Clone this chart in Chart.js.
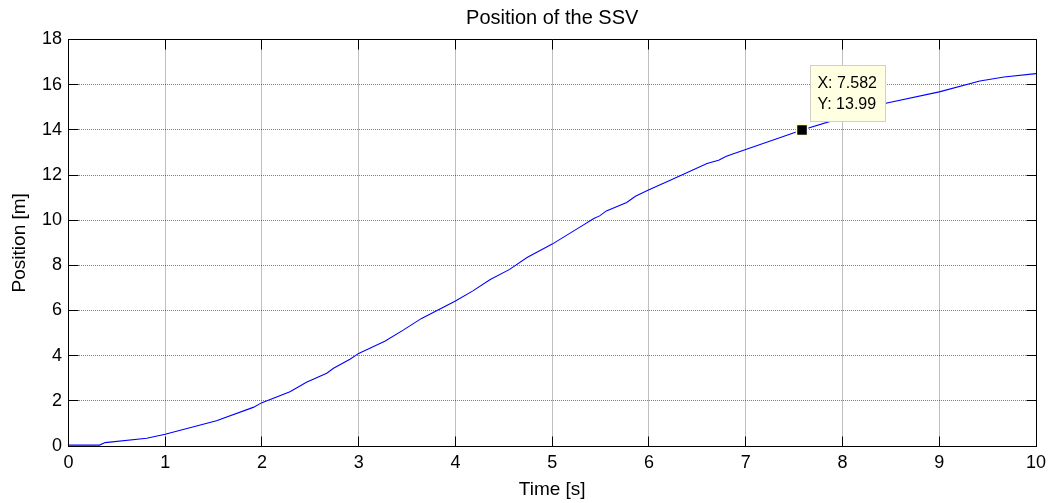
<!DOCTYPE html>
<html>
<head>
<meta charset="utf-8">
<script src="https://cdn.jsdelivr.net/npm/chart.js@4"></script>
<style>
html,body{margin:0;padding:0;background:#fff;}
canvas{display:block;}
</style>
</head>
<body>
<canvas id="c" width="1053" height="503"></canvas>
<script>
// ---- data ----
const timeS = [0, 0.32, 0.38, 0.81, 1.0, 1.53, 1.91, 2.0, 2.29, 2.46, 2.67, 2.74, 2.91, 3.0, 3.22, 3.27, 3.46, 3.65, 4.0, 4.18, 4.36, 4.56, 4.74, 5.0, 5.32, 5.43, 5.49, 5.56, 5.77, 5.86, 6.0, 6.22, 6.60, 6.72, 6.80, 7.0, 7.582, 8.0, 8.46, 9.0, 9.42, 9.67, 10.0];
const positionM = [0.04, 0.04, 0.15, 0.34, 0.52, 1.12, 1.71, 1.92, 2.40, 2.82, 3.22, 3.44, 3.84, 4.10, 4.54, 4.64, 5.13, 5.65, 6.42, 6.87, 7.37, 7.82, 8.35, 8.94, 9.78, 10.07, 10.19, 10.41, 10.78, 11.06, 11.35, 11.77, 12.51, 12.65, 12.83, 13.13, 13.99, 14.54, 15.19, 15.68, 16.16, 16.34, 16.49];
const xTicks = [0, 1, 2, 3, 4, 5, 6, 7, 8, 9, 10];
const yTicks = [0, 2, 4, 6, 8, 10, 12, 14, 16, 18];
const tipX = 7.582;
const tipY = 13.99;
const titleText = 'Position of the SSV';
const xLabel = 'Time [s]';
const yLabel = 'Position [m]';

const FONT = "'Liberation Sans', Arial, Helvetica, sans-serif";
const al = p => Math.round(p - 0.5) + 0.5;

const matlabBox = {
  id: 'matlabBox',
  afterDatasetsDraw(chart) {
    const {ctx, chartArea: a, scales: {x, y}} = chart;
    const L = al(a.left), R = al(a.right), T = al(a.top), B = al(a.bottom);
    const tl = 10;
    ctx.save();
    ctx.strokeStyle = '#000';
    ctx.lineWidth = 1;
    ctx.setLineDash([]);
    ctx.beginPath();
    ctx.rect(L, T, R - L, B - T);
    xTicks.forEach(v => {
      const px = al(x.getPixelForValue(v));
      ctx.moveTo(px, B); ctx.lineTo(px, B - tl);
      ctx.moveTo(px, T); ctx.lineTo(px, T + tl);
    });
    yTicks.forEach(v => {
      const py = al(y.getPixelForValue(v));
      ctx.moveTo(L, py); ctx.lineTo(L + tl, py);
      ctx.moveTo(R, py); ctx.lineTo(R - tl, py);
    });
    ctx.stroke();
    ctx.restore();
  },
  afterDraw(chart) {
    const {ctx, scales: {x, y}} = chart;
    const mx = x.getPixelForValue(tipX), my = y.getPixelForValue(tipY);
    const bx = Math.round(mx + 7.6), by = Math.round(my - 65.3), bw = 76, bh = 57;
    ctx.save();
    ctx.fillStyle = '#ffffe1';
    ctx.fillRect(bx, by, bw, bh);
    ctx.strokeStyle = '#d0d0c8';
    ctx.lineWidth = 1;
    ctx.strokeRect(bx + 0.5, by + 0.5, bw - 1, bh - 1);
    ctx.fillStyle = '#000';
    ctx.font = '16px ' + FONT;
    ctx.textBaseline = 'middle';
    ctx.textAlign = 'left';
    ctx.fillText('X: ' + tipX, bx + 7.4, my - 46.3);
    ctx.fillText('Y: ' + tipY, bx + 7.4, my - 25.5);
    ctx.restore();
  }
};

const lineData = timeS.map((t, i) => ({x: t, y: positionM[i]}));

new Chart(document.getElementById('c'), {
  type: 'line',
  data: {
    datasets: [
      {
        data: [{x: tipX, y: tipY}],
        showLine: false,
        pointStyle: 'rect',
        pointRadius: 7.8,
        pointBackgroundColor: '#000',
        pointBorderColor: '#ffffd0',
        pointBorderWidth: 1.5
      },
      {
        data: lineData,
        borderColor: '#0000ff',
        borderWidth: 1.1,
        pointRadius: 0,
        tension: 0,
        fill: false
      }
    ]
  },
  options: {
    responsive: false,
    animation: false,
    devicePixelRatio: 1,
    events: [],
    layout: {padding: {left: 0, right: 17, top: 0, bottom: 0}},
    plugins: {
      legend: {display: false},
      tooltip: {enabled: false},
      title: {
        display: true,
        fullSize: false,
        text: titleText,
        color: '#000',
        font: {family: FONT, size: 20, weight: 'normal'},
        padding: {top: 6, bottom: 9.5}
      }
    },
    scales: {
      x: {
        type: 'linear',
        min: 0, max: 10,
        afterBuildTicks: s => { s.ticks = xTicks.map(v => ({value: v})); },
        afterFit: s => { s.height = 57; },
        ticks: {color: '#000', font: {family: FONT, size: 18}, padding: 6.5, maxRotation: 0, autoSkip: false},
        grid: {color: 'rgba(0,0,0,0.5)', lineWidth: 1, drawTicks: false},
        border: {display: true, color: '#000', width: 1, dash: [1, 1]},
        title: {display: true, text: xLabel, color: '#000', font: {family: FONT, size: 19}, padding: {top: 0, bottom: 1.6}}
      },
      y: {
        type: 'linear',
        min: 0, max: 18,
        afterBuildTicks: s => { s.ticks = yTicks.map(v => ({value: v})); },
        afterFit: s => { s.width = 68.4; },
        ticks: {color: '#000', font: {family: FONT, size: 18}, padding: 6.5, autoSkip: false},
        grid: {color: 'rgba(0,0,0,0.5)', lineWidth: 1, drawTicks: false},
        border: {display: true, color: '#000', width: 1, dash: [1, 1]},
        title: {display: true, text: yLabel, color: '#000', font: {family: FONT, size: 19}, padding: {top: 8, bottom: 0}}
      }
    }
  },
  plugins: [matlabBox]
});
</script>
</body>
</html>
